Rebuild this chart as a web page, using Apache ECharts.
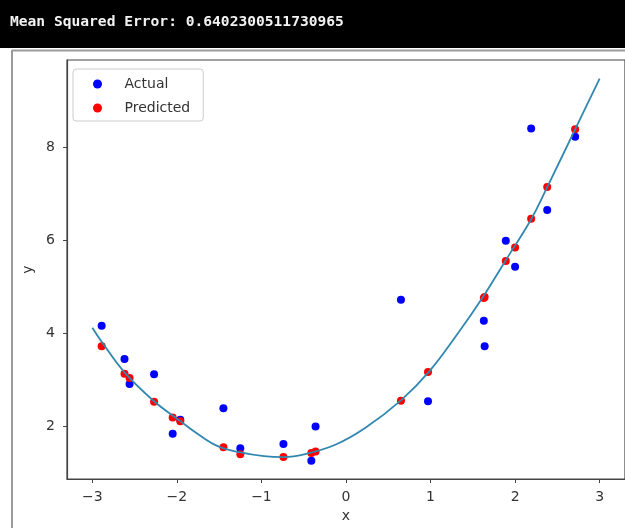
<!DOCTYPE html>
<html>
<head>
<meta charset="utf-8">
<script src="https://cdn.jsdelivr.net/npm/echarts@6/dist/echarts.min.js"></script>
<style>
  html, body { margin: 0; padding: 0; background: #ffffff; }
  #chart { width: 625px; height: 528px; }
</style>
</head>
<body>
<div id="chart"></div>
<script>
// Header line printed above the plot
const headerText = 'Mean Squared Error: 0.6402300511730965';

// Test samples: true targets and model predictions at the same x
const sampleX = [-2.89, -2.62, -2.56, -2.27, -2.05, -1.96, -1.45, -1.25, -0.74, -0.41,
                 -0.36, 0.65, 0.97, 1.63, 1.64, 1.89, 2.00, 2.19, 2.38, 2.71];
const actualY = [4.16, 3.45, 2.91, 3.12, 1.84, 2.14, 2.39, 1.53, 1.62, 1.26,
                 2.00, 4.72, 2.54, 4.27, 3.72, 5.99, 5.43, 8.40, 6.65, 8.22];
const predictedY = [3.72, 3.13, 3.04, 2.53, 2.19, 2.11, 1.55, 1.40, 1.34, 1.43,
                    1.46, 2.55, 3.17, 4.76, 4.78, 5.55, 5.84, 6.46, 7.14, 8.38];

// Fitted regression curve over the x range
const curveX = [-3.00, -2.89, -2.62, -2.27, -1.98, -1.74, -1.51, -1.25, -0.97, -0.74, -0.47,
                -0.12, 0.23, 0.65, 0.98, 1.32, 1.62, 1.89, 2.19, 2.38, 2.71, 3.00];
const curveY = [4.12, 3.82, 3.16, 2.54, 2.14, 1.82, 1.57, 1.44, 1.36, 1.34, 1.41,
                1.61, 1.97, 2.56, 3.17, 3.99, 4.78, 5.57, 6.45, 7.14, 8.38, 9.47];

// Tick positions
const xTicks = [-3, -2, -1, 0, 1, 2, 3];
const yTicks = [2, 4, 6, 8];

const pairs = (xs, ys) => xs.map((x, i) => [x, ys[i]]);
const minusSign = v => String(v).replace('-', '\u2212');

const chart = echarts.init(document.getElementById('chart'), null, { renderer: 'canvas' });

const axisFont = { fontFamily: 'DejaVu Sans', fontSize: 14, color: '#333333' };
const spine = { color: '#444444', width: 1.2 };

chart.setOption({
  animation: false,
  backgroundColor: '#ffffff',
  title: {
    text: headerText,
    left: 10,
    top: 15,
    padding: 0,
    textStyle: { color: '#f2f2f2', fontFamily: 'DejaVu Sans Mono', fontSize: 14.6, fontWeight: 'bold' }
  },
  graphic: [
    { type: 'rect', z: -1, shape: { x: 0, y: 0, width: 625, height: 48 }, style: { fill: '#000000' } },
    { type: 'line', shape: { x1: 12, y1: 50.5, x2: 625, y2: 50.5 }, style: { stroke: '#9a9a9a', lineWidth: 2 } },
    { type: 'line', shape: { x1: 12, y1: 50, x2: 12, y2: 528 }, style: { stroke: '#9a9a9a', lineWidth: 2 } }
  ],
  legend: {
    data: ['Actual', 'Predicted'],
    orient: 'vertical',
    left: 73,
    top: 69,
    padding: [7, 13, 5, 20],
    itemWidth: 44,
    itemHeight: 9,
    itemGap: 8,
    icon: 'circle',
    backgroundColor: 'rgba(255,255,255,0.85)',
    borderColor: '#cccccc',
    borderWidth: 1,
    borderRadius: 3,
    textStyle: { fontFamily: 'DejaVu Sans', fontSize: 14, color: '#333333', lineHeight: 16 }
  },
  grid: {
    left: 67, top: 60, width: 568, height: 423,
    show: true, borderColor: '#444444', borderWidth: 1.2
  },
  xAxis: {
    type: 'value',
    min: -3.3, max: 3.3,
    splitLine: { show: false },
    axisLine: { show: true, onZero: false, lineStyle: spine },
    axisTick: { show: true, length: 4, lineStyle: { color: '#444444' }, customValues: xTicks },
    axisLabel: Object.assign({ customValues: xTicks, margin: 11, formatter: minusSign }, axisFont),
    name: 'x',
    nameLocation: 'middle',
    nameGap: 30,
    nameTextStyle: axisFont
  },
  yAxis: {
    type: 'value',
    min: 0.87, max: 9.87,
    splitLine: { show: false },
    axisLine: { show: true, onZero: false, lineStyle: spine },
    axisTick: { show: true, length: 4, lineStyle: { color: '#444444' }, customValues: yTicks },
    axisLabel: Object.assign({ customValues: yTicks, margin: 12, formatter: minusSign }, axisFont),
    name: 'y',
    nameLocation: 'middle',
    nameGap: 32,
    nameTextStyle: axisFont
  },
  series: [
    {
      name: 'Actual', type: 'scatter', z: 2,
      data: pairs(sampleX, actualY),
      symbolSize: 8,
      itemStyle: { color: '#0000ff', opacity: 1 }
    },
    {
      name: 'Predicted', type: 'scatter', z: 3,
      data: pairs(sampleX, predictedY),
      symbolSize: 8,
      itemStyle: { color: '#ff0000', opacity: 1 }
    },
    {
      name: 'Fit', type: 'line', z: 4, silent: true,
      data: pairs(curveX, curveY),
      smooth: 0.4,
      showSymbol: false,
      lineStyle: { color: '#3088b0', width: 1.8 }
    }
  ]
});
</script>
</body>
</html>
